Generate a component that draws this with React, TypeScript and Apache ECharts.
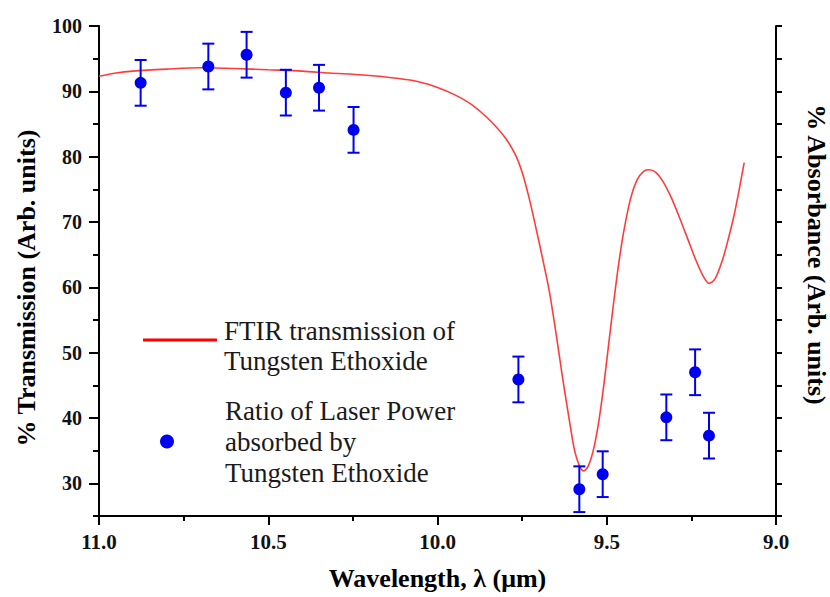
import { useEffect, useRef } from "react";
import * as echarts from "echarts";

// ---- data ----
const curveWavelength = [
  11.0, 10.95, 10.9, 10.8, 10.7, 10.6, 10.5, 10.4, 10.32, 10.22, 10.12, 10.05, 10.0, 9.95, 9.9,
  9.85, 9.8, 9.77, 9.75, 9.73, 9.71, 9.69, 9.67, 9.65, 9.63, 9.61, 9.595, 9.58, 9.568, 9.555,
  9.54, 9.525, 9.51, 9.495, 9.48, 9.465, 9.45, 9.43, 9.41, 9.39, 9.375, 9.355, 9.335, 9.31,
  9.286, 9.26, 9.237, 9.215, 9.198, 9.18, 9.158, 9.14, 9.124, 9.11, 9.094,
];
const curveTransmission = [
  92.3, 92.8, 93.1, 93.4, 93.6, 93.5, 93.3, 93.1, 92.8, 92.5, 92.0, 91.4, 90.6, 89.5, 88.0,
  85.8, 82.9, 80.3, 77.6, 73.8, 69.3, 64.5, 59.5, 53.0, 46.0, 39.5, 35.0, 32.6, 31.9, 32.6,
  35.0, 39.0, 44.5, 51.0, 57.5, 63.5, 68.5, 73.5, 76.5, 77.8, 78.0, 77.6, 76.3, 73.8,
  70.8, 67.3, 64.2, 61.7, 60.6, 61.3, 64.2, 67.6, 71.0, 74.6, 79.1,
];
const pointWavelength = [10.877, 10.677, 10.564, 10.448, 10.35, 10.248, 9.761, 9.581, 9.512, 9.324, 9.239, 9.198];
const pointAbsorbed = [91.3, 93.8, 95.6, 89.8, 90.55, 84.1, 45.9, 29.1, 31.4, 40.1, 47.0, 37.3];
const pointError = [3.5, 3.5, 3.5, 3.5, 3.5, 3.5, 3.5, 3.5, 3.5, 3.5, 3.5, 3.5];

const xTickLabels = [11.0, 10.5, 10.0, 9.5, 9.0];
const yTickLabels = [30, 40, 50, 60, 70, 80, 90, 100];
const yMinorTicks = [25, 35, 45, 55, 65, 75, 85, 95];
const yRightTicks = [25, 30, 35, 40, 45, 50, 55, 60, 65, 70, 75, 80, 85, 90, 95, 100];

const FTIR_NAME = "FTIR transmission of\nTungsten Ethoxide";
const LASER_NAME = "Ratio of Laser Power\nabsorbed by\nTungsten Ethoxide";

const FONT = "Liberation Serif";
const BLUE = "#0000f0";
const RED = "#ff3c3c";
// legend line icon: a 3px bar drawn at the top of its 15px box
const LINE_ICON = "path://M0,0H74V3H0Z M0,15H74V15.01H0Z";

export default function App() {
  const ref = useRef<HTMLDivElement>(null);

  useEffect(() => {
    if (!ref.current) return;
    const chart = echarts.init(ref.current, null, { renderer: "svg" });

    const axisLine = { show: true, lineStyle: { color: "#000", width: 2 } };
    const nameStyle = { fontFamily: FONT, fontWeight: "bold" as const, fontSize: 26, color: "#000" };

    chart.setOption({
      animation: false,
      backgroundColor: "#fff",
      textStyle: { fontFamily: FONT },
      grid: { left: 99, right: 54, top: 26, bottom: 81, containLabel: false, outerBoundsMode: "none" },
      legend: [
        {
          data: [{ name: FTIR_NAME, icon: LINE_ICON }],
          orient: "vertical",
          left: 143,
          top: 316,
          padding: 0,
          itemWidth: 74,
          itemHeight: 15,
          selectedMode: false,
          itemStyle: { color: "#ff0000", opacity: 1 },
          textStyle: { fontFamily: FONT, fontSize: 27, lineHeight: 30, color: "#1a1a1a", padding: [0, 0, 0, 2] },
        },
        {
          data: [{ name: LASER_NAME, icon: "circle" }],
          orient: "vertical",
          left: 160,
          top: 395,
          padding: 0,
          itemWidth: 14,
          itemHeight: 14,
          selectedMode: false,
          itemStyle: { color: BLUE, opacity: 1 },
          textStyle: { fontFamily: FONT, fontSize: 27, lineHeight: 31, color: "#1a1a1a", padding: [0, 0, 0, 46] },
        },
      ],
      xAxis: {
        type: "value",
        inverse: true,
        min: 9,
        max: 11,
        interval: 0.5,
        name: "Wavelength, λ (μm)",
        nameLocation: "middle",
        nameGap: 49,
        nameTextStyle: nameStyle,
        axisLine,
        axisTick: { show: true, length: 9, lineStyle: { color: "#000", width: 2 }, customValues: xTickLabels },
        minorTick: { show: true, splitNumber: 2, length: 5, lineStyle: { color: "#000", width: 2 } },
        splitLine: { show: false },
        axisLabel: {
          customValues: xTickLabels,
          formatter: (v: number) => v.toFixed(1),
          fontFamily: FONT,
          fontWeight: "bold",
          fontSize: 21,
          color: "#111",
          margin: 15,
        },
      },
      yAxis: [
        {
          type: "value",
          position: "left",
          min: 25,
          max: 100,
          name: "% Transmission (Arb. units)",
          nameLocation: "middle",
          nameGap: 60,
          nameTextStyle: { ...nameStyle, padding: [0, 34, 0, 0] },
          axisLine,
          axisTick: { show: true, length: 10, lineStyle: { color: "#000", width: 2 }, customValues: yTickLabels },
          splitLine: { show: false },
          axisLabel: {
            customValues: yTickLabels,
            fontFamily: FONT,
            fontWeight: "bold",
            fontSize: 20,
            color: "#111",
            margin: 17,
          },
        },
        {
          type: "value",
          position: "left",
          min: 25,
          max: 100,
          axisLine: { show: false },
          axisTick: { show: true, length: 6, lineStyle: { color: "#000", width: 2 }, customValues: yMinorTicks },
          axisLabel: { show: false },
          splitLine: { show: false },
        },
        {
          type: "value",
          position: "right",
          min: 25,
          max: 100,
          name: "% Absorbance (Arb. units)",
          nameLocation: "middle",
          nameRotate: -90,
          nameGap: 27,
          nameTextStyle: { ...nameStyle, padding: [0, 33, 0, 0] },
          axisLine,
          axisTick: { show: true, length: 6, lineStyle: { color: "#000", width: 2 }, customValues: yRightTicks },
          axisLabel: { show: false },
          splitLine: { show: false },
        },
      ],
      series: [
        {
          name: FTIR_NAME,
          type: "line",
          yAxisIndex: 0,
          data: curveWavelength.map((x, i) => [x, curveTransmission[i]]),
          symbol: "none",
          smooth: 0.3,
          lineStyle: { color: RED, width: 1.6 },
          itemStyle: { color: RED },
          z: 2,
        },
        {
          name: "error",
          type: "custom",
          yAxisIndex: 0,
          silent: true,
          z: 3,
          data: pointWavelength.map((x, i) => [x, pointAbsorbed[i] - pointError[i], pointAbsorbed[i] + pointError[i]]),
          encode: { x: 0, y: [1, 2] },
          renderItem: (_params: any, api: any) => {
            const x = api.value(0);
            const lo = api.coord([x, api.value(1)]);
            const hi = api.coord([x, api.value(2)]);
            const w = 6;
            const style = { stroke: BLUE, lineWidth: 2 };
            return {
              type: "group",
              children: [
                { type: "line", shape: { x1: hi[0], y1: hi[1], x2: lo[0], y2: lo[1] }, style },
                { type: "line", shape: { x1: hi[0] - w, y1: hi[1], x2: hi[0] + w, y2: hi[1] }, style },
                { type: "line", shape: { x1: lo[0] - w, y1: lo[1], x2: lo[0] + w, y2: lo[1] }, style },
              ],
            };
          },
        },
        {
          name: LASER_NAME,
          type: "scatter",
          yAxisIndex: 0,
          data: pointWavelength.map((x, i) => [x, pointAbsorbed[i]]),
          symbol: "circle",
          symbolSize: 12,
          itemStyle: { color: BLUE, opacity: 1 },
          z: 4,
        },
      ],
    });

    return () => chart.dispose();
  }, []);

  return (
    <div
      ref={ref}
      style={{ position: "absolute", left: 0, top: 0, width: 830, height: 597, background: "#fff" }}
    />
  );
}
